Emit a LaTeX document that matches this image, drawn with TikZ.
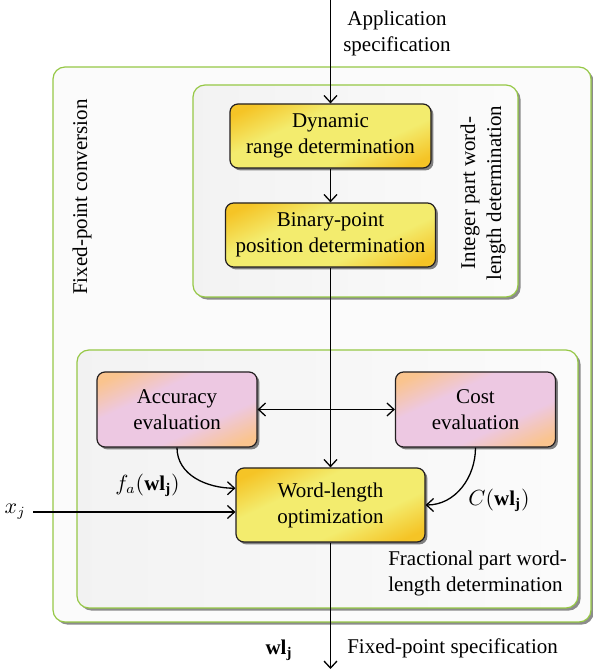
\documentclass[tikz,border=0pt]{standalone}
\usepackage{fontspec}
\setmainfont{Liberation Serif}
\usepackage{tikz}
\usetikzlibrary{arrows.meta,calc,positioning,shadows}
\definecolor{boxline}{RGB}{35,31,32}
\definecolor{panelgreen}{RGB}{150,200,70}
\definecolor{yelcorner}{RGB}{245,196,38}
\definecolor{yelmid}{RGB}{243,236,110}
\definecolor{pinkcorner}{RGB}{250,196,142}
\definecolor{pinkmid}{RGB}{237,200,226}
\pgfdeclareverticalshading{yelshade}{100bp}{color(0bp)=(yelcorner); color(22bp)=(yelcorner); color(38bp)=(yelmid); color(62bp)=(yelmid); color(78bp)=(yelcorner); color(100bp)=(yelcorner)}
\pgfdeclareverticalshading{pinkshade}{100bp}{color(0bp)=(pinkcorner); color(22bp)=(pinkcorner); color(38bp)=(pinkmid); color(62bp)=(pinkmid); color(78bp)=(pinkcorner); color(100bp)=(pinkcorner)}
\tikzstyle{panel}=[draw=panelgreen,line width=0.6pt,rounded corners=6pt,drop shadow={shadow xshift=1.3pt,shadow yshift=-1.3pt,fill=black!45,opacity=1}]
\tikzstyle{outerpanel}=[panel,fill=white!97!gray]
\tikzstyle{innerpanel}=[panel,left color=gray!10,right color=white!97!gray]
\tikzstyle{yelbox}=[draw=boxline,line width=0.6pt,rounded corners=4pt,align=center,inner sep=2pt,shade,shading=yelshade,shading angle=25,drop shadow={shadow xshift=1.2pt,shadow yshift=-1.2pt,fill=black!50,opacity=1}]
\tikzstyle{evalbox}=[yelbox,shading=pinkshade,shading angle=25,minimum width=80pt,minimum height=37.5pt]

\begin{document}
\begin{tikzpicture}[
      >={Straight Barb[length=3.5pt,width=6.5pt]},
      x=0.5pt,y=0.5pt,
      font=\fontsize{10.5}{13}\selectfont,
      line width=0.65pt
    ]
      \useasboundingbox (0,0) rectangle (593,671);
      \draw[outerpanel] (53,49) rectangle (591,604);
      \draw[innerpanel] (193,374) rectangle (518,586);
      \draw[innerpanel] (77,63) rectangle (578,321);

      \node [yelbox,minimum width=100.5pt,minimum height=32pt] (dyn) at (330.5,535) {Dynamic\\range determination};
      \node [yelbox,minimum width=105pt,minimum height=32pt] (bin) [node distance=49.5pt,below of=dyn] {Binary-point\\position determination};
      \node [yelbox,minimum width=94.5pt,minimum height=37pt] (wlopt) [node distance=135pt,below of=bin] {Word-length\\optimization};
      \node [evalbox] (acc) at (177,261.5) {Accuracy\\evaluation};
      \node [evalbox] (cost) at (475.5,261.5) {Cost\\evaluation};

      \coordinate (appin) at (330.5,671);
      \coordinate (xin) at (33,159);
      \coordinate (specout) at (330.5,2);

      \node [right,align=center] (applbl) at (336,638) {Application\\specification};
      \node [rotate=90] (fpclbl) at (82,474) {Fixed-point conversion};
      \node [rotate=90,align=center] (intlbl) at (483,478) {Integer part word-\\length determination};
      \node [right,align=left] (fraclbl) at (381,97.5) {Fractional part word-\\length determination};
      \node (falbl) at (147.5,186) {$f_a(\mathbf{wl_j})$};
      \node (clbl) at (499,171) {$C(\mathbf{wl_j})$};
      \node [right] (speclbl) at (340,23) {Fixed-point specification};
      \node (wllbl) at (279,21) {$\mathbf{wl_j}$};
      \node [left] (xlbl) at (xin) {$x_j$};

      \draw[->] (appin) -- (dyn);
      \draw[->] (dyn) -- (bin);
      \draw[->] (bin) -- (wlopt);
      \draw[<->] (acc) -- (cost);
      \draw[->] (acc.south) to[out=-90,in=180] (wlopt.170);
      \draw[->] (cost.south) to[out=-90,in=0] (wlopt.east);
      \draw[->] (xin) -- (xin -| wlopt.west);
      \draw[->] (wlopt) -- (specout);
    \end{tikzpicture}
\end{document}
